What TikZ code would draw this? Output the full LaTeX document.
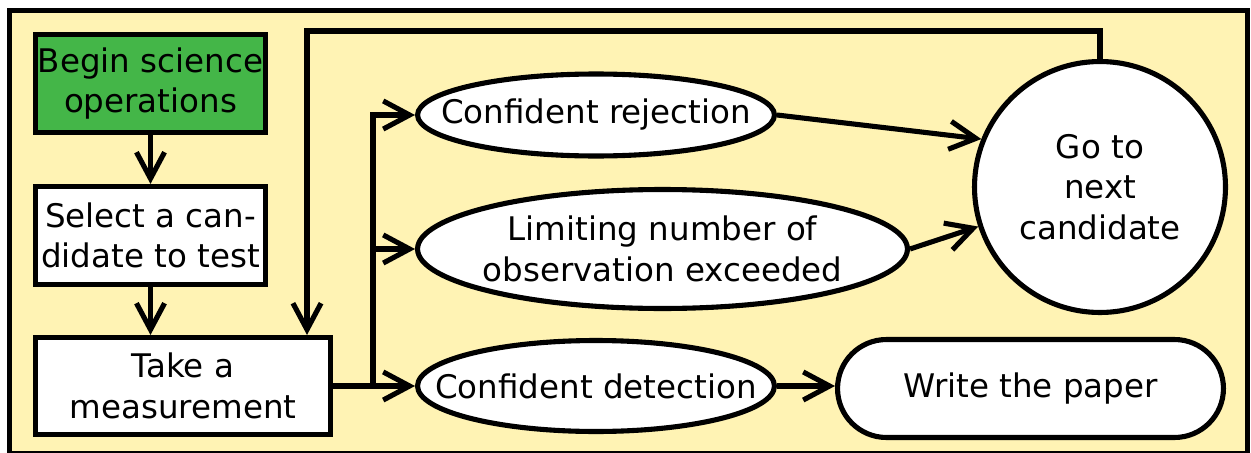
\documentclass[tikz,border=0pt]{standalone}
\usepackage{fontspec}
\setmainfont{DejaVu Sans}
\usetikzlibrary{arrows.meta,shapes.geometric,shapes.misc}

\definecolor{bgyellow}{RGB}{255,243,180}
\definecolor{startgreen}{RGB}{68,182,72}

\tikzset{
	txt/.style={align=center, inner sep=0pt, font=\fontsize{18.5}{23}\selectfont},
	box/.style={txt, draw, line width=2.9pt, fill=white},
	stepbox/.style={box, rectangle},
	outcome/.style={box, ellipse, label={[txt]center:#1}},
	flow/.style={line width=2.9pt, -{Straight Barb[length=15pt, width=16pt]}},
	link/.style={line width=2.9pt}
}

\begin{document}
\begin{tikzpicture}[x=0.02cm, y=-0.02cm]
			\useasboundingbox (0,0) rectangle (1251,453);
			%Frame
			\draw[line width=3.2pt, fill=bgyellow] (9.5,10.5) rectangle (1247.5,454);
			
			%Steps on the left
			\node[stepbox, fill=startgreen, minimum width=4.6cm, minimum height=1.96cm] (begin) at (150.5,83.5) {Begin science\\operations};
			\node[stepbox, minimum width=4.6cm, minimum height=1.96cm] (select) at (150.5,235.5) {Select a can-\\didate to test};
			\node[stepbox, minimum width=5.9cm, minimum height=1.94cm] (measure) at (183,386) {Take a\\measurement};
			
			%Outcomes
			\node[outcome={Confident rejection}, minimum width=7.14cm, minimum height=1.64cm] (reject) at (596,115) {};
			\node[outcome={Limiting number of\\observation exceeded}, minimum width=9.8cm, minimum height=2.38cm] (limit) at (662.5,249) {};
			\node[outcome={Confident detection}, minimum width=7.14cm, minimum height=1.82cm] (detect) at (596,386) {};
			
			%Ends
			\node[box, rounded rectangle, minimum width=7.72cm, minimum height=1.96cm] (paper) at (1030.5,388.5) {Write the paper};
			\node[box, circle, minimum size=5.02cm] (next) at (1100,187) {Go to\\next\\candidate};
			
			%Arrows
			\coordinate (fork) at (373,386);
			\coordinate (back) at (307,31);
			\draw[flow] (begin.south) -- (select.north);
			\draw[flow] (select.south) -- (select.south |- measure.north);
			\draw[link] (measure.east) -- (fork);
			\draw[flow] (fork) |- (reject.west);
			\draw[flow] (fork) |- (limit.west);
			\draw[flow] (fork) -- (detect.west);
			\draw[flow] (reject.east) -- (next.158);
			\draw[flow] (limit.east) -- (next.198);
			\draw[flow] (detect.east) -- (detect.east -| paper.west);
			\draw[flow] (next.north) |- (back) -- (back |- measure.north);
\end{tikzpicture}
\end{document}
